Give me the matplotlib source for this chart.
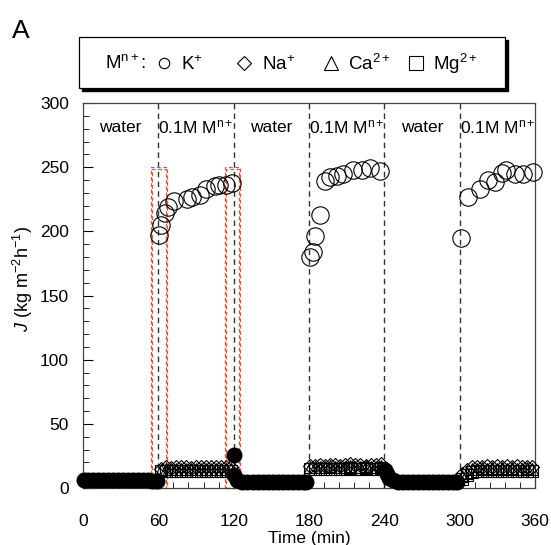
import matplotlib
matplotlib.use('Agg')
import matplotlib.pyplot as plt
from matplotlib.lines import Line2D
from matplotlib.patches import Rectangle
from matplotlib.ticker import MultipleLocator

plt.rcParams['font.family'] = ['Liberation Sans', 'DejaVu Sans']
plt.rcParams['mathtext.fontset'] = 'custom'
plt.rcParams['mathtext.rm'] = 'Liberation Sans'
plt.rcParams['mathtext.it'] = 'Liberation Sans:italic'
plt.rcParams['mathtext.default'] = 'regular'

# phase boundaries (min) and labels
bounds = [0, 60, 120, 180, 240, 300, 360]
phases = ['water', r'0.1M M$^{n+}$', 'water', r'0.1M M$^{n+}$', 'water', r'0.1M M$^{n+}$']

# K+ flux in salt phases (open circles)
k_time = [60.8, 62, 65.5, 68, 72.7, 82.5, 87, 93, 98, 105, 108.5, 114, 118.5,
          180.7, 183, 185, 188.5, 192.5, 196.5, 202, 207, 215, 222, 228.5, 236.5,
          301, 306.8, 316, 322.7, 328, 333.4, 337.3, 344, 350.6, 358.5]
k_flux = [197, 205, 214, 219, 224, 225.5, 227, 228, 233, 235, 236, 236, 238,
          180, 184, 196, 212.5, 239, 242, 243, 245, 248, 248, 249, 247,
          195, 227, 233, 240, 238.5, 245.5, 247.6, 244.5, 244.5, 246]

# water flux (filled circles)
water_time = [0.5, 4, 8, 12, 16, 20, 24, 28, 32, 36, 40, 44, 48, 52, 55, 59,
              120, 120.5, 123, 127, 131, 135, 139, 143, 147, 151, 155, 159, 163, 167, 171, 175, 178,
              240.5, 242, 244, 247, 251, 255, 259, 263, 267, 271, 275, 279, 283, 287, 291, 295, 298]
water_flux = [6.5, 6.5, 6.5, 6, 6, 6.5, 6.5, 6, 6, 6.5, 6.5, 6, 6, 6, 5.5, 5.5,
              26, 10, 6, 5, 4.5, 4.5, 4.5, 4.5, 4.5, 4.5, 4.5, 4.5, 4.5, 4.5, 4.5, 4.5, 4.5,
              14, 11, 8, 6, 5, 5, 5, 4.5, 4.5, 4.5, 4.5, 4.5, 4.5, 4.5, 5, 5, 5]

# Na+, Ca2+, Mg2+ flux in salt phases
salt_time = [62, 66, 70, 74, 78, 82, 86, 90, 94, 98, 102, 106, 110, 114, 118,
             181, 185, 189, 193, 197, 201, 205, 209, 213, 217, 221, 225, 229, 233, 237,
             302, 306, 310, 314, 318, 322, 326, 330, 334, 338, 342, 346, 350, 354, 358]
na_flux = [15, 16, 15.5, 16, 16.5, 16, 15.5, 16, 16.5, 16, 16, 16.5, 16, 16, 16.5,
           17, 17.5, 18, 17.5, 18, 18, 17.5, 18, 18.5, 18, 18, 17.5, 18, 18, 18.5,
           11, 14, 16, 16.5, 16, 17, 16.5, 17, 16.5, 17, 16.5, 17, 16.5, 16, 16.5]
ca_flux = [14, 14.5, 15, 14.5, 15, 15, 14.5, 15, 15, 14.5, 15, 15, 14.5, 15, 15,
           16, 16.5, 16, 16.5, 17, 16.5, 16, 16.5, 17, 16.5, 16.5, 17, 16.5, 16.5, 17,
           9, 12, 14.5, 15, 15.5, 15, 15.5, 15, 15.5, 15, 15.5, 15, 15, 15.5, 15]
mg_flux = [13, 13, 13.5, 13, 13, 13.5, 13, 13, 13.5, 13, 13, 13.5, 13, 13, 13.5,
           14.5, 15, 14.5, 15, 15, 14.5, 15, 15, 15.5, 15, 15, 15.5, 15, 15, 15.5,
           7, 10, 12.5, 13, 13, 13.5, 13, 13, 13.5, 13, 13, 13.5, 13, 13, 13]

# highlighted windows (min, min, top)
boxes = [(54, 67, 250), (113, 125, 250)]

fig = plt.figure(figsize=(5.51, 5.45), dpi=100)
ax = fig.add_axes([83/551, 1-488/545, 452/551, 385/545])

for b in bounds[1:-1]:
    ax.axvline(b, color='#333333', ls=(0, (4, 3)), lw=1, zorder=1)

for (x0, x1, top) in boxes:
    for d in (0, 0.9):
        ax.add_patch(Rectangle((x0+d, 0), x1-x0-2*d, top-d*2, fill=False,
                               ec='#e8553a', lw=0.9, ls=(0, (3, 2)), zorder=2, clip_on=False))

mk = dict(ls='none', mfc='none', mec='black', mew=0.8, clip_on=False, zorder=3)
ax.plot(salt_time, mg_flux, marker='s', ms=9, **mk)
ax.plot(salt_time, ca_flux, marker='^', ms=9, **mk)
ax.plot(salt_time, na_flux, marker='D', ms=7, **mk)
ax.plot(k_time, k_flux, marker='o', ms=12.5, **mk)
ax.plot(water_time, water_flux, ls='none', marker='o', ms=10.5, mfc='black', mec='black',
        clip_on=False, zorder=4)

for i, lab in enumerate(phases):
    ax.text((bounds[i]+bounds[i+1])/2, 281, lab, ha='center', va='center', fontsize=12.5)

ax.set_xlim(0, 360)
ax.set_ylim(0, 300)
ax.xaxis.set_major_locator(MultipleLocator(60))
ax.xaxis.set_minor_locator(MultipleLocator(12))
ax.yaxis.set_major_locator(MultipleLocator(50))
ax.yaxis.set_minor_locator(MultipleLocator(10))
ax.tick_params(which='both', direction='in', top=False, right=False, labelsize=12.5)
ax.tick_params(axis='x', which='major', length=6, pad=19)
ax.tick_params(axis='x', which='minor', length=4)
ax.tick_params(axis='y', which='major', length=7, pad=10)
ax.tick_params(axis='y', which='minor', length=4.5)
for s in ax.spines.values():
    s.set_linewidth(0.9)
    s.set_color('#444444')

ax.set_xlabel('Time (min)', fontsize=12.5)
ax.xaxis.set_label_coords(0.5, -0.112)
ax.set_ylabel(r'$\it{J}$ (kg m$^{-2}$h$^{-1}$)', fontsize=13)
ax.yaxis.set_label_coords(-0.106, 0.544)

# legend box with shadow
lx, ly, lw_, lh = 79/551, 1-88/545, 426/551, 51/545
fig.patches.append(Rectangle((lx+2.5/551, ly-2.5/545), lw_, lh, transform=fig.transFigure,
                             fc='black', ec='black', zorder=0))
fig.patches.append(Rectangle((lx, ly), lw_, lh, transform=fig.transFigure,
                             fc='white', ec='black', lw=0.9, zorder=1))
fig.text(105/551, 1-64/545, r'M$^{n+}$:', fontsize=13.5, va='center', ha='left')
handles = [Line2D([], [], ls='none', marker='o', ms=7.5, mfc='none', mec='black', mew=0.8),
           Line2D([], [], ls='none', marker='D', ms=7, mfc='none', mec='black', mew=0.8),
           Line2D([], [], ls='none', marker='^', ms=10, mfc='none', mec='black', mew=0.8),
           Line2D([], [], ls='none', marker='s', ms=10, mfc='none', mec='black', mew=0.8)]
labels = [r'K$^{+}$    ', r'Na$^{+}$   ', r'Ca$^{2+}$', r'Mg$^{2+}$']
fig.legend(handles, labels, ncol=4, frameon=False, loc='center left',
           bbox_to_anchor=(156/551, 1-64/545), fontsize=13.5, handlelength=0.84,
           handletextpad=0.5, columnspacing=0.9, borderpad=0, borderaxespad=0)

fig.text(12/551, 1-38/545, 'A', fontsize=19, ha='left', va='baseline')

fig.savefig('out.png', dpi=100)
